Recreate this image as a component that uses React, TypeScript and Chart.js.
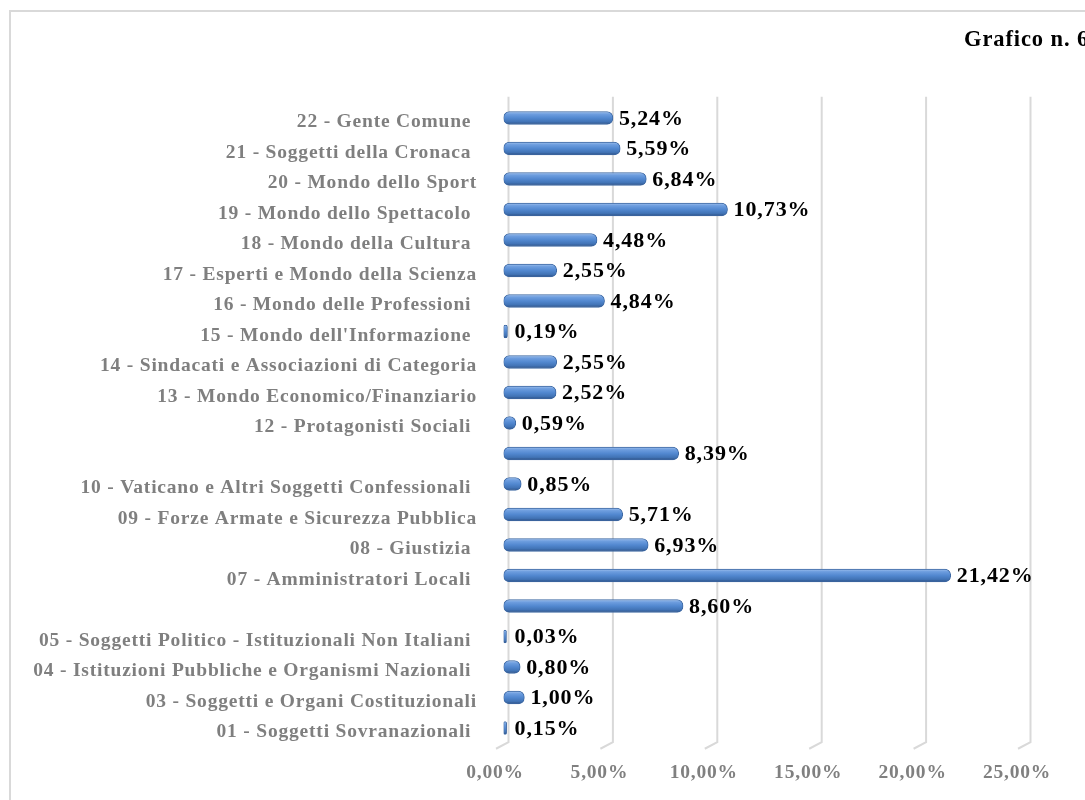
import { useEffect, useRef } from 'react';
import { Chart, registerables } from 'chart.js';

Chart.register(...registerables);

// Categories (bottom to top, as in the reference)
const categories: string[] = [
  '01 - Soggetti Sovranazionali ',
  '03 - Soggetti e Organi Costituzionali',
  '04 - Istituzioni Pubbliche e Organismi Nazionali ',
  '05 - Soggetti Politico - Istituzionali Non Italiani ',
  '',
  '07 - Amministratori Locali ',
  '08 - Giustizia ',
  '09 - Forze Armate e Sicurezza Pubblica',
  '10 - Vaticano e Altri Soggetti Confessionali ',
  '',
  '12 - Protagonisti Sociali ',
  '13 - Mondo Economico/Finanziario',
  '14 - Sindacati e Associazioni di Categoria',
  "15 - Mondo dell'Informazione ",
  '16 - Mondo delle Professioni ',
  '17 - Esperti e Mondo della Scienza',
  '18 - Mondo della Cultura ',
  '19 - Mondo dello Spettacolo ',
  '20 - Mondo dello Sport',
  '21 - Soggetti della Cronaca ',
  '22 - Gente Comune ',
];

// Percent values
const shares: number[] = [
  0.15, 1.0, 0.8, 0.03, 8.6, 21.42, 6.93, 5.71, 0.85, 8.39, 0.59,
  2.52, 2.55, 0.19, 4.84, 2.55, 4.48, 10.73, 6.84, 5.59, 5.24,
];

// X axis tick values
const xTicks: number[] = [0, 5, 10, 15, 20, 25];

const chartTitle = 'Grafico n. 6';

const FONT = '"Liberation Serif", "Times New Roman", serif';
const fmt = (v: number) => v.toFixed(2).replace('.', ',') + '%';

export default function App() {
  const ref = useRef<HTMLCanvasElement | null>(null);

  useEffect(() => {
    const canvas = ref.current;
    if (!canvas) return;

    const spacingPlugin = {
      id: 'spacing',
      beforeLayout(chart: any) {
        chart.ctx.letterSpacing = '0.8px';
      },
      beforeDraw(chart: any) {
        chart.ctx.letterSpacing = '0.8px';
      },
    };

    const gridPlugin = {
      id: 'grid3d',
      beforeDatasetsDraw(chart: any) {
        const { ctx, chartArea } = chart;
        const xs = chart.scales.x;
        ctx.save();
        ctx.strokeStyle = '#d9d9d9';
        ctx.lineWidth = 2;
        xs.ticks.forEach((t: any) => {
          const p = xs.getPixelForValue(t.value);
          ctx.beginPath();
          ctx.moveTo(p + 5, chartArea.top - 6);
          ctx.lineTo(p + 5, chartArea.bottom - 1);
          ctx.lineTo(p - 7.5, chartArea.bottom + 5.5);
          ctx.stroke();
        });
        ctx.restore();
      },
    };

    const labelPlugin = {
      id: 'valueLabels',
      afterDatasetsDraw(chart: any) {
        const { ctx } = chart;
        const xs = chart.scales.x;
        const meta = chart.getDatasetMeta(0);
        ctx.save();
        ctx.font = `bold 22px ${FONT}`;
        ctx.fillStyle = '#000000';
        ctx.textAlign = 'left';
        ctx.textBaseline = 'middle';
        ctx.letterSpacing = '0.9px';
        meta.data.forEach((bar: any, i: number) => {
          const x = Math.max(bar.x + 6, xs.getPixelForValue(0) + 11);
          ctx.fillText(fmt(shares[i]), x, bar.y + 1);
        });
        ctx.restore();
      },
      afterDraw(chart: any) {
        const { ctx } = chart;
        ctx.save();
        ctx.strokeStyle = '#d9d9d9';
        ctx.lineWidth = 2;
        ctx.strokeRect(10, 11, 1300, 1000);
        ctx.font = `bold 22.5px ${FONT}`;
        ctx.fillStyle = '#000000';
        ctx.textAlign = 'left';
        ctx.textBaseline = 'alphabetic';
        ctx.letterSpacing = '0.9px';
        ctx.fillText(chartTitle, 964, 46);
        ctx.restore();
      },
    };

    const chart = new Chart(canvas, {
      type: 'bar',
      data: {
        labels: categories,
        datasets: [
          {
            data: shares,
            backgroundColor: (c: any) => {
              const ch = c.chart;
              const ys = ch.scales?.y;
              if (!ys || !ch.chartArea) return '#4f81bd';
              const yc = ys.getPixelForValue(c.dataIndex);
              const g = ch.ctx.createLinearGradient(0, yc - 6.5, 0, yc + 6.5);
              g.addColorStop(0, '#a3c3ee');
              g.addColorStop(0.2, '#6e9edf');
              g.addColorStop(0.5, '#5288d0');
              g.addColorStop(0.8, '#4173b5');
              g.addColorStop(1, '#2c4e82');
              return g;
            },
            borderColor: '#3d68a3',
            borderWidth: 1,
            borderSkipped: false,
            borderRadius: 6,
            barThickness: 13,
            minBarLength: 3,
          },
        ],
      },
      options: {
        indexAxis: 'y',
        responsive: false,
        animation: false,
        events: [],
        layout: {
          padding: { left: 0, top: 102.75, right: 104.5, bottom: 16.75 },
        },
        plugins: {
          legend: { display: false },
          title: { display: false },
          tooltip: { enabled: false },
        },
        scales: {
          x: {
            type: 'linear',
            min: 0,
            max: 25,
            afterBuildTicks: (s: any) => {
              s.ticks = xTicks.map((v) => ({ value: v }));
            },
            afterFit: (s: any) => {
              s.height = 60;
            },
            grid: { display: false, drawTicks: false },
            border: { display: false },
            ticks: {
              padding: 18,
              labelOffset: -8.5,
              color: '#808080',
              font: { family: FONT, size: 19.5, weight: 'bold' },
              callback: (v: any) => fmt(Number(v)),
              maxRotation: 0,
              autoSkip: false,
            },
          },
          y: {
            type: 'category',
            reverse: true,
            afterFit: (s: any) => {
              s.width = 503.5;
            },
            grid: { display: false, drawTicks: false },
            border: { display: false },
            ticks: {
              padding: 26.5,
              labelOffset: 4,
              color: '#7f7f7f',
              font: { family: FONT, size: 19.5, weight: 'bold' },
              autoSkip: false,
            },
          },
        },
      },
      plugins: [spacingPlugin, gridPlugin, labelPlugin],
    } as any);

    return () => {
      chart.destroy();
    };
  }, []);

  return (
    <div
      style={{
        position: 'fixed',
        left: 0,
        top: 0,
        width: 1085,
        height: 800,
        overflow: 'hidden',
        background: '#ffffff',
      }}
    >
      <canvas
        ref={ref}
        width={1130}
        height={820}
        style={{ position: 'absolute', left: 0, top: 0, display: 'block' }}
      />
    </div>
  );
}
